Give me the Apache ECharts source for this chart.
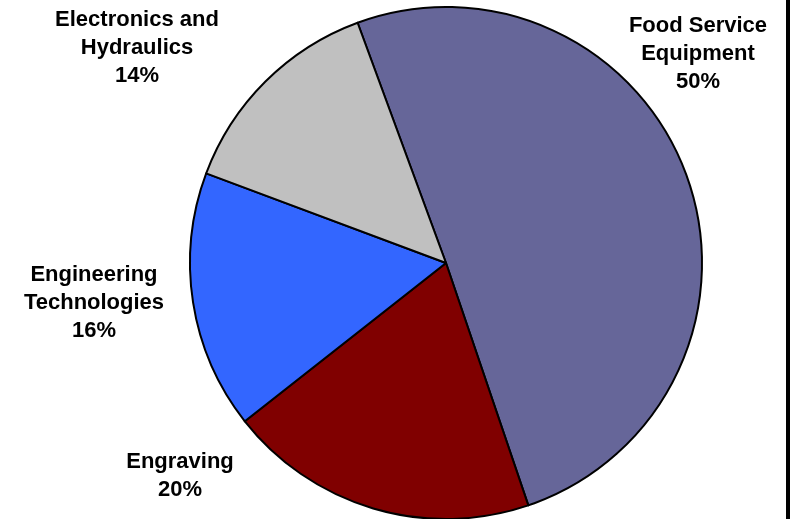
<!DOCTYPE html>
<html>
<head>
<meta charset="utf-8">
<script src="https://cdn.jsdelivr.net/npm/echarts@6/dist/echarts.min.js"></script>
<style>
html,body{margin:0;padding:0;background:#fff;}
#chart{width:790px;height:519px;}
</style>
</head>
<body>
<div id="chart"></div>
<script>
// Data
const categories = ['Food Service Equipment', 'Engraving', 'Engineering Technologies', 'Electronics and Hydraulics'];
const labelText = ['Food Service\nEquipment', 'Engraving', 'Engineering\nTechnologies', 'Electronics and\nHydraulics'];
const values = [50.4, 19.6, 16.3, 13.7];
const colors = ['#666699', '#800000', '#3366FF', '#C0C0C0'];

// Label anchor positions (layout only)
const labelPos = [[698, 54], [180, 476], [94, 303], [137, 48]];

const total = values.reduce((a, b) => a + b, 0);
const chart = echarts.init(document.getElementById('chart'), null, {renderer: 'canvas'});
chart.setOption({
  animation: false,
  backgroundColor: '#ffffff',
  graphic: [{
    type: 'rect', shape: {x: 786, y: 0, width: 4, height: 519},
    style: {fill: '#000'}, silent: true
  }],
  series: [{
    type: 'pie',
    center: [446, 263],
    radius: 256,
    startAngle: 110.2,
    clockwise: true,
    avoidLabelOverlap: false,
    itemStyle: {borderColor: '#000', borderWidth: 2},
    label: {
      show: true,
      position: 'outside',
      fontFamily: 'Liberation Sans, Arial, sans-serif',
      fontWeight: 'bold',
      fontSize: 22,
      lineHeight: 28,
      color: '#000',
      align: 'center',
      formatter: function (p) {
        return labelText[p.dataIndex] + '\n' + Math.round(p.value / total * 100) + '%';
      }
    },
    labelLine: {show: false},
    labelLayout: function (p) {
      const pos = labelPos[p.dataIndex];
      return {x: pos[0], y: pos[1], align: 'center', verticalAlign: 'middle'};
    },
    data: categories.map((c, i) => ({name: c, value: values[i], itemStyle: {color: colors[i]}}))
  }]
});
</script>
</body>
</html>
